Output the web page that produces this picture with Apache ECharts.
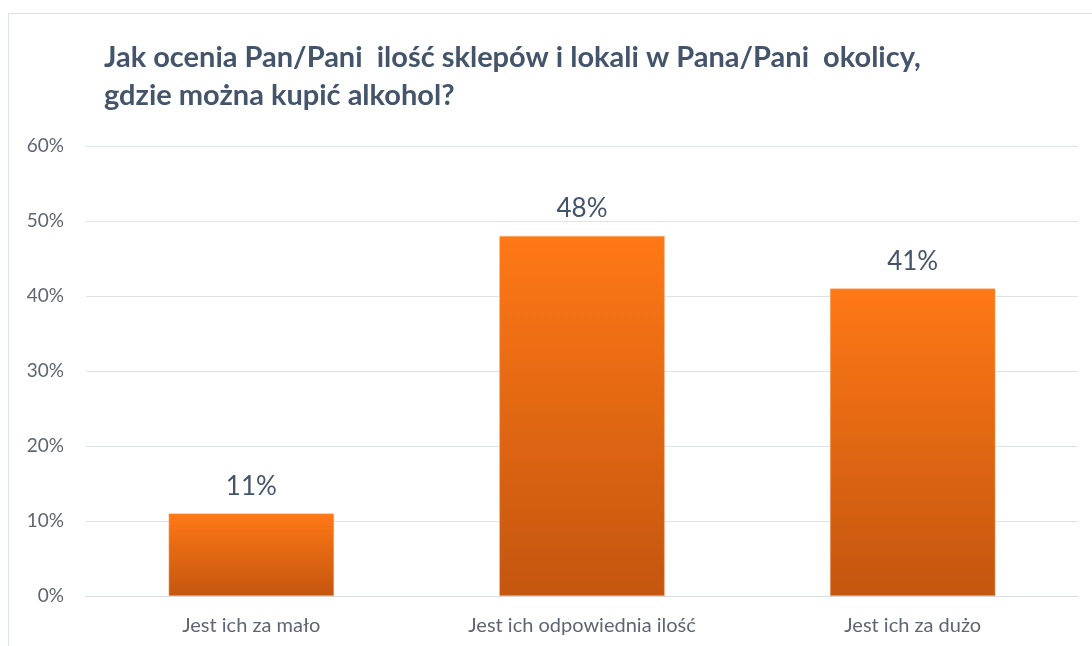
<!DOCTYPE html>
<html>
<head>
<meta charset="utf-8">
<script src="https://cdn.jsdelivr.net/npm/echarts@6/dist/echarts.min.js"></script>
<style>
  html, body { margin: 0; padding: 0; background: #fff; overflow: hidden; }
  #frame { position: absolute; left: 8px; top: 13px; width: 1200px; height: 700px; border: 1px solid #dde2e9; }
  #ech { position: absolute; left: 0; top: 0; width: 1092px; height: 646px; }
</style>
</head>
<body>
<div id="frame"></div>
<div id="ech"></div>
<script>
var titleText = "Jak ocenia Pan/Pani  ilość sklepów i lokali w Pana/Pani  okolicy,\ngdzie można kupić alkohol?";
var categories = ["Jest ich za mało", "Jest ich odpowiednia ilość", "Jest ich za dużo"];
var values = [11, 48, 41];
var yTicks = [0, 10, 20, 30, 40, 50, 60];

var myChart = echarts.init(document.getElementById("ech"));
var option = {
  animation: false,
  title: {
    text: titleText,
    left: 99,
    top: 34,
    textStyle: {
      fontFamily: "Lato",
      fontWeight: "bold",
      fontSize: 29,
      lineHeight: 38,
      color: "#44546a"
    }
  },
  grid: { left: 86, right: 14, top: 146, bottom: 50 },
  xAxis: {
    type: "category",
    data: categories,
    axisLine: { show: true, lineStyle: { color: "#d9dde3" } },
    axisTick: { show: false },
    axisLabel: { margin: 20, fontFamily: "Lato", fontSize: 20, color: "#5f6672" }
  },
  yAxis: {
    type: "value",
    min: yTicks[0],
    max: yTicks[yTicks.length - 1],
    interval: 10,
    axisLine: { show: false },
    axisTick: { show: false },
    splitLine: { lineStyle: { color: "#dfe3e8", width: 1 } },
    axisLabel: {
      margin: 22,
      fontFamily: "Lato",
      fontSize: 19,
      color: "#5f6672",
      formatter: "{value}%"
    }
  },
  series: [{
    type: "bar",
    data: values,
    barWidth: "50%",
    itemStyle: {
      color: new echarts.graphic.LinearGradient(0, 0, 0, 1, [
        { offset: 0, color: "#ff7816" },
        { offset: 1, color: "#c4560f" }
      ]),
      borderColor: "#f7b27a",
      borderWidth: 0.5
    },
    label: {
      show: true,
      position: "top",
      distance: 14,
      formatter: "{c}%",
      fontFamily: "Lato",
      fontSize: 26,
      color: "#44546a"
    }
  }]
};
myChart.setOption(option);
</script>
</body>
</html>
